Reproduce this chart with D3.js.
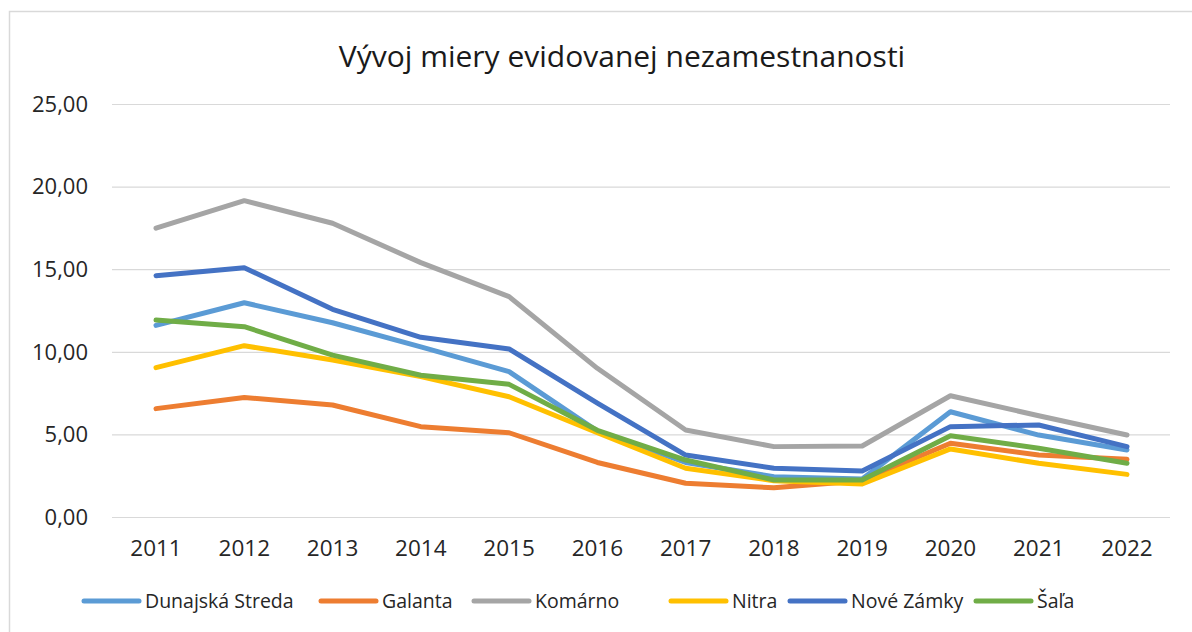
<!DOCTYPE html>
<html>
<head>
<meta charset="utf-8">
<script src="https://cdn.jsdelivr.net/npm/d3@7.9.0/dist/d3.min.js"></script>
<style>
  body { margin: 0; background: #fff; }
  svg { display: block; font-family: 'Open Sans', sans-serif; }
</style>
</head>
<body>
<svg id="chart" width="1192" height="632"></svg>
<script>
const years = ['2011', '2012', '2013', '2014', '2015', '2016', '2017', '2018', '2019', '2020', '2021', '2022'];
const seriesNames = ['Dunajská Streda', 'Galanta', 'Komárno', 'Nitra', 'Nové Zámky', 'Šaľa'];
const seriesColors = ['#5b9bd5', '#ed7d31', '#a5a5a5', '#ffc000', '#4472c4', '#70ad47'];

const dunajskaStreda = [11.60, 12.97, 11.76, 10.30, 8.80, 5.20, 3.30, 2.44, 2.30, 6.37, 4.96, 4.06];
const galanta        = [6.56, 7.24, 6.78, 5.47, 5.10, 3.30, 2.04, 1.77, 2.20, 4.46, 3.75, 3.49];
const komarno        = [17.48, 19.15, 17.78, 15.40, 13.34, 9.00, 5.27, 4.26, 4.30, 7.34, 6.13, 4.96];
const nitra          = [9.04, 10.37, 9.50, 8.50, 7.28, 5.10, 2.95, 2.20, 2.00, 4.12, 3.25, 2.58];
const noveZamky      = [14.61, 15.09, 12.57, 10.88, 10.17, 6.90, 3.75, 2.95, 2.78, 5.47, 5.57, 4.26];
const sala           = [11.92, 11.52, 9.80, 8.58, 8.03, 5.25, 3.45, 2.24, 2.24, 4.92, 4.16, 3.25];

const seriesValues = [dunajskaStreda, galanta, komarno, nitra, noveZamky, sala];
const yTicks = [0, 5, 10, 15, 20, 25];

const svg = d3.select('#chart');

// chart frame
svg.append('rect')
  .attr('x', 9.5).attr('y', 11.5)
  .attr('width', 1200).attr('height', 640)
  .attr('fill', 'none')
  .attr('stroke', '#d9d9d9')
  .attr('stroke-width', 1.5);

svg.append('text')
  .attr('x', 622).attr('y', 67)
  .attr('text-anchor', 'middle')
  .attr('font-size', 30)
  .attr('fill', '#1a1a1a')
  .text('Vývoj miery evidovanej nezamestnanosti');

const x = d3.scalePoint()
  .domain(years)
  .range([156, 1127]);

const y = d3.scaleLinear()
  .domain([0, 25])
  .range([517, 104]);

// gridlines
svg.append('g')
  .selectAll('line')
  .data(yTicks)
  .join('line')
  .attr('x1', 112).attr('x2', 1170)
  .attr('y1', (d) => y(d) + 0.5).attr('y2', (d) => y(d) + 0.5)
  .attr('stroke', '#d9d9d9')
  .attr('stroke-width', 1.2);

// y tick labels
svg.append('g')
  .selectAll('text')
  .data(yTicks)
  .join('text')
  .attr('x', 88)
  .attr('y', (d) => y(d))
  .attr('dy', '0.35em')
  .attr('text-anchor', 'end')
  .attr('font-size', 22)
  .attr('fill', '#262626')
  .text((d) => d3.format('.2f')(d).replace('.', ','));

// x tick labels
svg.append('g')
  .selectAll('text')
  .data(years)
  .join('text')
  .attr('x', (d) => x(d))
  .attr('y', 556)
  .attr('text-anchor', 'middle')
  .attr('font-size', 22.5)
  .attr('fill', '#262626')
  .text((d) => d);

const line = d3.line()
  .x((d, i) => x(years[i]))
  .y((d) => y(d));

seriesValues.forEach((values, i) => {
  svg.append('path')
    .attr('d', line(values))
    .attr('fill', 'none')
    .attr('stroke', seriesColors[i])
    .attr('stroke-width', 5)
    .attr('stroke-linejoin', 'round')
    .attr('stroke-linecap', 'round');
});

// legend
const legendX = [84, 321, 474, 671, 790, 976];
const legend = svg.append('g');
seriesNames.forEach((name, i) => {
  const g = legend.append('g').attr('transform', `translate(${legendX[i]},601)`);
  g.append('line')
    .attr('x1', 0).attr('x2', 55)
    .attr('stroke', seriesColors[i])
    .attr('stroke-width', 5)
    .attr('stroke-linecap', 'round');
  g.append('text')
    .attr('x', 61)
    .attr('dy', '0.35em')
    .attr('font-size', 19.5)
    .attr('fill', '#262626')
    .text(name);
});
</script>
</body>
</html>
